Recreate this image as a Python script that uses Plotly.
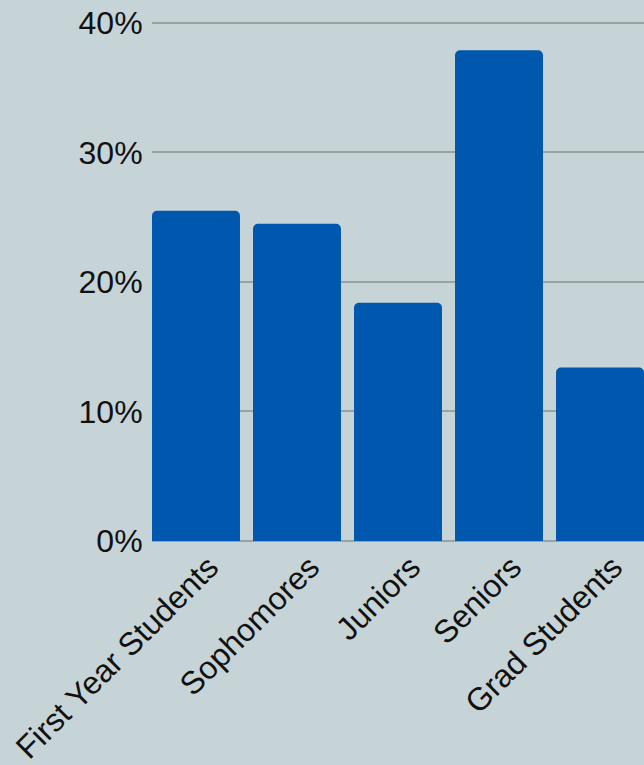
import plotly.graph_objects as go

categories = ["First Year Students", "Sophomores", "Juniors", "Seniors", "Grad Students"]
values = [25.5, 24.5, 18.4, 37.9, 13.4]
tick_vals = [0, 10, 20, 30, 40]
tick_text = ["0%", "10%", "20%", "30%", "40%"]

BG = "#c7d4d7"
BAR = "#0057ae"
GRID = "#9aa3a3"

fig = go.Figure(go.Bar(x=categories, y=values, marker=dict(color=BAR, line=dict(width=0))))

fig.update_layout(
    width=644, height=765,
    paper_bgcolor=BG, plot_bgcolor=BG,
    margin=dict(l=152, r=0, t=20, b=221),
    bargap=0.129,
    barcornerradius=5,
    showlegend=False,
    font=dict(family="Liberation Sans, Arial, sans-serif", size=32, color="#111111"),
)
fig.update_xaxes(
    range=[-0.4356, 4.4356],
    tickangle=-45,
    showgrid=False, showline=False, zeroline=False,
    tickfont=dict(size=32),
    ticklabelshift=13,
    ticklabelstandoff=0,
)
fig.update_yaxes(
    range=[0, 40.23],
    tickvals=tick_vals, ticktext=tick_text,
    showgrid=True, gridcolor=GRID, gridwidth=1.5,
    zeroline=True, zerolinecolor=GRID, zerolinewidth=1.5,
    showline=False,
    ticks="outside", ticklen=2, tickcolor="rgba(0,0,0,0)",
    tickfont=dict(size=32),
)

fig.write_html("out.html")
